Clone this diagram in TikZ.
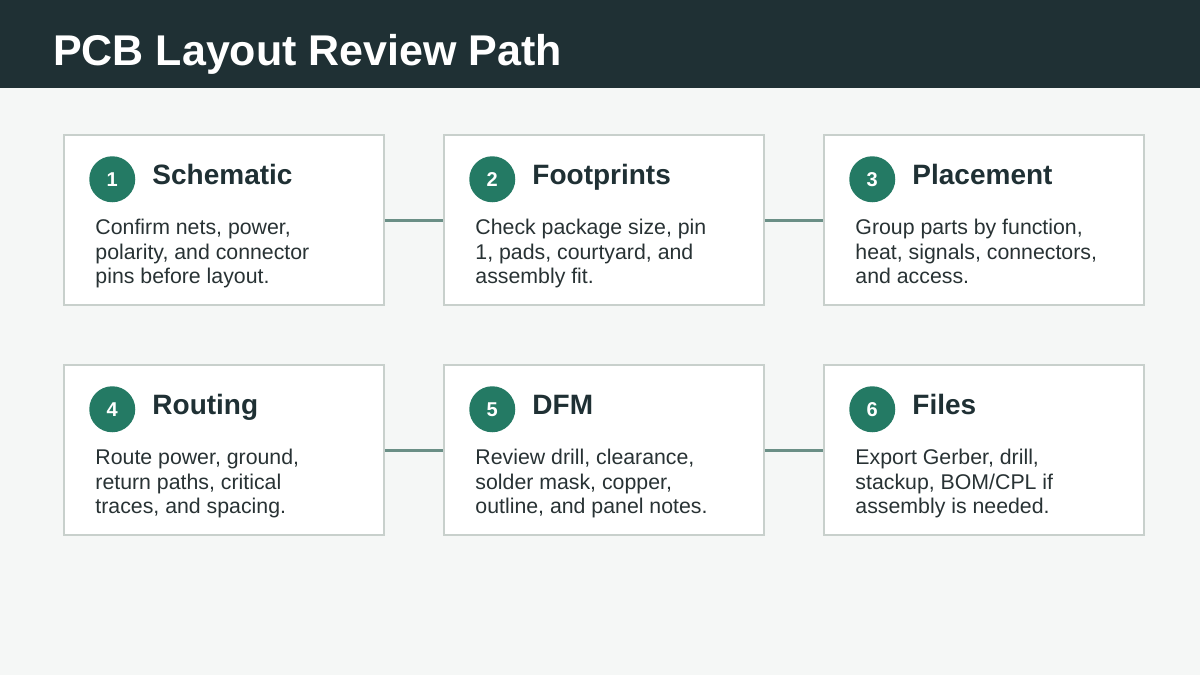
\documentclass[tikz,border=0pt]{standalone}
\usepackage{fontspec}
\setmainfont{Liberation Sans}
\usetikzlibrary{positioning}
\definecolor{headbar}{RGB}{31,48,52}
\definecolor{pagebg}{RGB}{245,247,246}
\definecolor{stepgreen}{RGB}{36,122,100}
\definecolor{boxline}{RGB}{200,208,204}
\definecolor{linkline}{RGB}{106,143,134}
\definecolor{bodytext}{RGB}{40,50,52}

\begin{document}
\begin{tikzpicture}[x=1pt, y=-1pt,
        stepbox/.style = {draw=boxline, line width=1.5pt, fill=white, minimum width=320pt, minimum height=170pt, inner sep=0pt},
        num/.style = {circle, fill=stepgreen, text=white, minimum size=46pt, inner sep=0pt, font=\fontsize{20}{20}\selectfont\bfseries},
        head/.style = {anchor=base west, text=headbar, font=\fontsize{28}{28}\selectfont\bfseries, inner sep=0pt},
        body/.style = {anchor=north west, text=bodytext, align=left, inner sep=0pt, font=\fontsize{21.3}{24.5}\selectfont},
        link/.style = {draw=linkline, line width=3pt}]
    \fill[pagebg] (0,0) rectangle (1200,675);
    \fill[headbar] (0,0) rectangle (1200,88);
    \node[anchor=base west, text=white, inner sep=0pt, font=\fontsize{43}{43}\selectfont\bfseries] (title) at (53,65) {PCB Layout Review Path};

    % boxes
    \node[stepbox] (b1) at (224,220) {};
    \node[stepbox] (b2) at (604,220) {};
    \node[stepbox] (b3) at (984,220) {};
    \node[stepbox] (b4) at (224,450) {};
    \node[stepbox] (b5) at (604,450) {};
    \node[stepbox] (b6) at (984,450) {};

    \draw[link] (b1.east) -- (b2.west);
    \draw[link] (b2.east) -- (b3.west);
    \draw[link] (b4.east) -- (b5.west);
    \draw[link] (b5.east) -- (b6.west);

    \foreach \b/\n/\t/\d in {
        b1/1/Schematic/{Confirm nets, power,\\polarity, and connector\\pins before layout.},
        b2/2/Footprints/{Check package size, pin\\1, pads, courtyard, and\\assembly fit.},
        b3/3/Placement/{Group parts by function,\\heat, signals, connectors,\\and access.},
        b4/4/Routing/{Route power, ground,\\return paths, critical\\traces, and spacing.},
        b5/5/DFM/{Review drill, clearance,\\solder mask, copper,\\outline, and panel notes.},
        b6/6/Files/{Export Gerber, drill,\\stackup, BOM/CPL if\\assembly is needed.}}{
        \node[num] (\b-num) at ([xshift=49pt, yshift=-45pt]\b.north west) {\n};
        \node[head] (\b-head) at ([xshift=89pt, yshift=-50pt]\b.north west) {\t};
        \node[body] (\b-text) at ([xshift=32pt, yshift=-85pt]\b.north west) {\d};
    }
\end{tikzpicture}
\end{document}
